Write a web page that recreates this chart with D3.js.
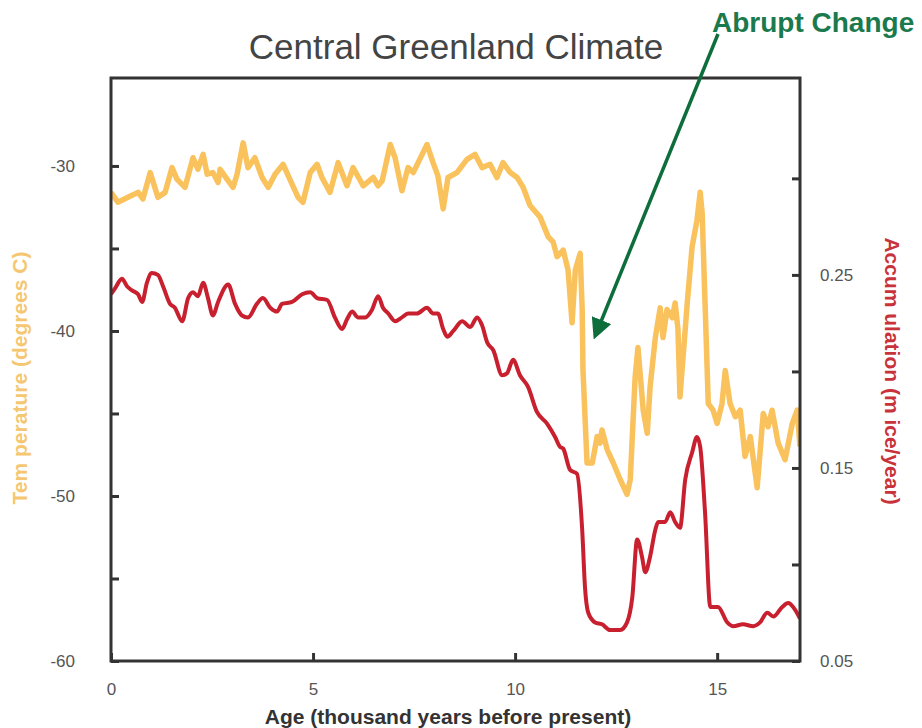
<!DOCTYPE html>
<html>
<head>
<meta charset="utf-8">
<script src="https://cdn.jsdelivr.net/npm/d3@7"></script>
<style>
  body { margin: 0; background: #fff; }
  svg { font-family: "Liberation Sans", Arial, Helvetica, sans-serif; }
</style>
</head>
<body>
<div id="chart"></div>
<script>
// Temperature record (age in thousand years, degrees C)
const tempAges = [0, 0.17, 0.42, 0.67, 0.79, 0.97, 1.16, 1.34, 1.51, 1.63, 1.83, 2.03, 2.15, 2.28, 2.38,
    2.52, 2.65, 2.70, 2.87, 3.02, 3.12, 3.27, 3.39, 3.56, 3.74, 3.89, 4.06, 4.26, 4.48, 4.63, 4.75, 4.93,
    5.10, 5.22, 5.42, 5.62, 5.84, 5.99, 6.24, 6.49, 6.61, 6.71, 6.91, 7.03, 7.20, 7.35, 7.48, 7.60, 7.82,
    7.97, 8.09, 8.22, 8.34, 8.56, 8.81, 9.01, 9.18, 9.38, 9.55, 9.70, 9.88, 10.05, 10.20, 10.37, 10.62,
    10.82, 10.94, 11.04, 11.19, 11.31, 11.41, 11.49, 11.61, 11.66, 11.68, 11.78, 11.91, 12.03, 12.10,
    12.15, 12.28, 12.43, 12.60, 12.77, 12.85, 12.97, 13.04, 13.17, 13.27, 13.34, 13.47, 13.59, 13.66,
    13.76, 13.89, 13.96, 14.03, 14.08, 14.26, 14.38, 14.50, 14.58, 14.63, 14.70, 14.78, 14.90, 15.00,
    15.12, 15.20, 15.32, 15.45, 15.57, 15.69, 15.82, 15.99, 16.14, 16.26, 16.36, 16.51, 16.68, 16.86,
    16.98, 17.05];
const tempValues = [-31.6, -32.2, -31.9, -31.6, -32.0, -30.4, -31.9, -31.6, -30.1, -30.8, -31.3, -29.5,
    -30.2, -29.3, -30.5, -30.4, -31.0, -30.2, -30.8, -31.3, -30.5, -28.6, -30.1, -29.5, -30.7, -31.3,
    -30.5, -29.9, -31.1, -31.9, -32.2, -30.4, -29.9, -30.7, -31.6, -29.8, -31.2, -30.1, -31.2, -30.7,
    -31.2, -30.9, -28.7, -29.5, -31.5, -30.1, -30.4, -29.8, -28.7, -29.8, -30.6, -32.6, -30.7, -30.4,
    -29.6, -29.3, -30.1, -29.9, -30.7, -29.8, -30.4, -30.7, -31.3, -32.4, -33.1, -34.3, -34.6, -35.5,
    -35.1, -36.3, -39.5, -36.3, -35.3, -38.7, -42.4, -48.0, -48.0, -46.4, -46.8, -46.0, -47.2, -48.0,
    -49.0, -49.9, -49.0, -42.8, -41.0, -44.8, -46.2, -43.4, -40.4, -38.6, -40.4, -38.7, -39.2, -38.3,
    -39.9, -44.0, -38.3, -34.9, -33.3, -31.6, -32.9, -38.3, -44.4, -44.8, -45.6, -44.4, -42.4, -44.4,
    -45.2, -44.8, -47.6, -46.4, -49.5, -45.0, -45.8, -44.8, -46.8, -47.8, -45.6, -44.8, -47.0];

// Snow accumulation record (age in thousand years, m ice per year)
const accumAges = [0, 0.10, 0.27, 0.40, 0.52, 0.67, 0.77, 0.89, 1.01, 1.16, 1.29, 1.46, 1.58, 1.76, 1.91,
    2.03, 2.15, 2.28, 2.40, 2.52, 2.65, 2.90, 3.07, 3.24, 3.39, 3.61, 3.76, 3.94, 4.11, 4.23, 4.48, 4.73,
    4.93, 5.10, 5.35, 5.54, 5.72, 5.84, 5.97, 6.11, 6.29, 6.46, 6.61, 6.73, 6.86, 7.03, 7.20, 7.35, 7.57,
    7.82, 7.97, 8.09, 8.22, 8.32, 8.47, 8.69, 8.89, 9.06, 9.18, 9.31, 9.46, 9.68, 9.80, 9.95, 10.12,
    10.32, 10.54, 10.79, 10.99, 11.11, 11.19, 11.36, 11.53, 11.66, 11.73, 11.81, 11.98, 12.15, 12.35,
    12.60, 12.77, 12.90, 13.02, 13.14, 13.22, 13.34, 13.47, 13.54, 13.71, 13.84, 13.96, 14.08, 14.21,
    14.38, 14.50, 14.58, 14.70, 14.83, 15.02, 15.25, 15.40, 15.64, 15.89, 16.06, 16.24, 16.39, 16.61,
    16.76, 16.88, 17.05];
const accumValues = [0.240, 0.243, 0.248, 0.244, 0.242, 0.240, 0.236, 0.246, 0.251, 0.250, 0.244, 0.235,
    0.233, 0.226, 0.238, 0.241, 0.239, 0.246, 0.238, 0.229, 0.236, 0.245, 0.235, 0.229, 0.228, 0.235,
    0.238, 0.233, 0.231, 0.235, 0.236, 0.240, 0.241, 0.238, 0.237, 0.228, 0.222, 0.227, 0.231, 0.228,
    0.228, 0.232, 0.239, 0.233, 0.230, 0.226, 0.228, 0.230, 0.230, 0.233, 0.230, 0.230, 0.222, 0.218,
    0.221, 0.226, 0.223, 0.228, 0.224, 0.215, 0.211, 0.198, 0.199, 0.206, 0.198, 0.192, 0.179, 0.173,
    0.166, 0.161, 0.160, 0.149, 0.147, 0.118, 0.088, 0.075, 0.070, 0.069, 0.066, 0.066, 0.070, 0.083,
    0.113, 0.104, 0.096, 0.104, 0.118, 0.122, 0.122, 0.127, 0.122, 0.119, 0.144, 0.158, 0.166, 0.161,
    0.127, 0.078, 0.078, 0.070, 0.068, 0.069, 0.068, 0.070, 0.075, 0.073, 0.078, 0.080, 0.078, 0.072];

// Tick values
const ageTicks = [0, 5, 10, 15];
const tempTicks = [-30, -40, -50, -60];
const tempMinorTicks = [-35, -45, -55];
const accumTicks = [0.25, 0.15, 0.05];
const accumMinorTicks = [0.30, 0.20, 0.10];

const W = 922, H = 728;
const margin = { top: 78, right: 122, bottom: 67, left: 111 };
const width = W - margin.left - margin.right;
const height = H - margin.top - margin.bottom;

const svg = d3.select("#chart").append("svg")
    .attr("width", W)
    .attr("height", H);

const g = svg.append("g")
    .attr("transform", `translate(${margin.left},${margin.top})`);

// Scales
const x = d3.scaleLinear().domain([0, 17.05]).range([0, width]);
const yTemp = d3.scaleLinear().domain([-60, -24.67]).range([height, 0]);
const yAccum = d3.scaleLinear().domain([0.05, 0.352]).range([height, 0]);

// Lines, clipped to the frame
g.append("clipPath").attr("id", "plot-clip")
    .append("rect").attr("width", width).attr("height", height);

const tempData = tempAges.map((a, i) => ({ age: a, value: tempValues[i] }));
const accumData = accumAges.map((a, i) => ({ age: a, value: accumValues[i] }));

g.append("path")
    .datum(tempData)
    .attr("clip-path", "url(#plot-clip)")
    .attr("fill", "none")
    .attr("stroke", "#f9c25c")
    .attr("stroke-width", 5.5)
    .attr("stroke-linejoin", "round")
    .attr("d", d3.line().x(d => x(d.age)).y(d => yTemp(d.value)));

g.append("path")
    .datum(accumData)
    .attr("clip-path", "url(#plot-clip)")
    .attr("fill", "none")
    .attr("stroke", "#c8202e")
    .attr("stroke-width", 4)
    .attr("stroke-linejoin", "round")
    .attr("d", d3.line().curve(d3.curveMonotoneX).x(d => x(d.age)).y(d => yAccum(d.value)));

// Axes (ticks point inward)
function styleAxis(sel) {
    sel.select(".domain").remove();
    sel.selectAll(".tick line").attr("stroke", "#333").attr("stroke-width", 3);
    sel.selectAll(".tick text").attr("fill", "#555").style("font-size", "17px");
}

const hyphen = d => String(d);

g.append("g")
    .attr("transform", `translate(0,${height})`)
    .call(d3.axisBottom(x).tickValues(ageTicks).tickSize(-8).tickPadding(22).tickFormat(hyphen))
    .call(styleAxis);

g.append("g")
    .call(d3.axisLeft(yTemp).tickValues(tempTicks).tickSize(-8).tickPadding(36).tickFormat(hyphen))
    .call(styleAxis);
g.append("g")
    .call(d3.axisLeft(yTemp).tickValues(tempMinorTicks).tickSize(-8).tickFormat(""))
    .call(styleAxis);

g.append("g")
    .attr("transform", `translate(${width},0)`)
    .call(d3.axisRight(yAccum).tickValues(accumTicks).tickSize(-8).tickPadding(20).tickFormat(d3.format(".2f")))
    .call(styleAxis);
g.append("g")
    .attr("transform", `translate(${width},0)`)
    .call(d3.axisRight(yAccum).tickValues(accumMinorTicks).tickSize(-8).tickFormat(""))
    .call(styleAxis);

// Frame
g.append("rect")
    .attr("width", width)
    .attr("height", height)
    .attr("fill", "none")
    .attr("stroke", "#333")
    .attr("stroke-width", 3);

// Title
svg.append("text")
    .attr("x", 456)
    .attr("y", 59)
    .attr("text-anchor", "middle")
    .attr("fill", "#444")
    .style("font-size", "35px")
    .text("Central Greenland Climate");

// Axis titles
svg.append("text")
    .attr("transform", `translate(27,${378}) rotate(-90)`)
    .attr("text-anchor", "middle")
    .attr("fill", "#f5c772")
    .style("font-size", "21px")
    .style("font-weight", "bold")
    .text("Tem perature (degrees C)");

svg.append("text")
    .attr("transform", `translate(885,${371}) rotate(90)`)
    .attr("text-anchor", "middle")
    .attr("fill", "#c8323a")
    .style("font-size", "21px")
    .style("font-weight", "bold")
    .text("Accum ulation (m  ice/year)");

svg.append("text")
    .attr("x", 448)
    .attr("y", 724)
    .attr("text-anchor", "middle")
    .attr("fill", "#333")
    .style("font-size", "21px")
    .style("font-weight", "bold")
    .text("Age (thousand years before present)");

// Abrupt change annotation
svg.append("defs").append("marker")
    .attr("id", "arrowhead")
    .attr("viewBox", "0 0 10 10")
    .attr("refX", 2)
    .attr("refY", 5)
    .attr("markerWidth", 6)
    .attr("markerHeight", 6)
    .attr("markerUnits", "strokeWidth")
    .attr("orient", "auto")
    .append("path")
    .attr("d", "M0,0 L10,5 L0,10 z")
    .attr("fill", "#0d6e3c");

svg.append("line")
    .attr("x1", 718).attr("y1", 34)
    .attr("x2", 600).attr("y2", 324)
    .attr("stroke", "#0d6e3c")
    .attr("stroke-width", 3.5)
    .attr("marker-end", "url(#arrowhead)");

svg.append("text")
    .attr("x", 712)
    .attr("y", 32)
    .attr("fill", "#1b7a4d")
    .style("font-size", "28px")
    .style("font-weight", "bold")
    .text("Abrupt Change");
</script>
</body>
</html>
